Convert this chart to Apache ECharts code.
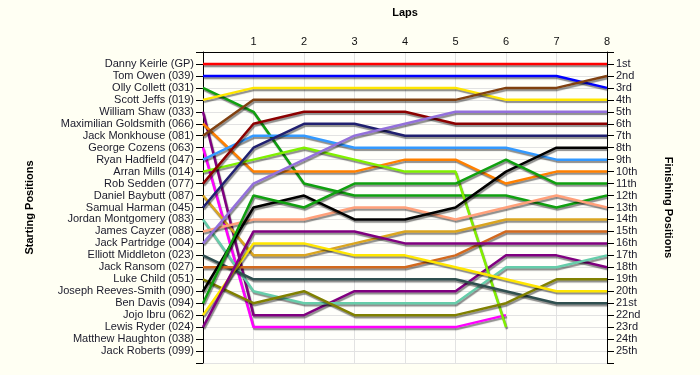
<!DOCTYPE html>
<html><head><meta charset="utf-8">
<script src="https://cdn.jsdelivr.net/npm/echarts@6/dist/echarts.min.js"></script>
<style>html,body{margin:0;padding:0;background:#fffff3}#c{width:700px;height:375px}</style>
</head><body><div id="c"></div>
<script>
const startNames = [
  'Danny Keirle (GP)','Tom Owen (039)','Olly Collett (031)','Scott Jeffs (019)',
  'William Shaw (033)','Maximilian Goldsmith (066)','Jack Monkhouse (081)','George Cozens (063)',
  'Ryan Hadfield (047)','Arran Mills (014)','Rob Sedden (077)','Daniel Baybutt (087)',
  'Samual Harman (045)','Jordan Montgomery (083)','James Cayzer (088)','Jack Partridge (004)',
  'Elliott Middleton (023)','Jack Ransom (027)','Luke Child (051)','Joseph Reeves-Smith (090)',
  'Ben Davis (094)','Jojo Ibru (062)','Lewis Ryder (024)','Matthew Haughton (038)','Jack Roberts (099)'
];
const finishLabels = ['1st','2nd','3rd','4th','5th','6th','7th','8th','9th','10th','11th','12th','13th',
  '14th','15th','16th','17th','18th','19th','20th','21st','22nd','23rd','24th','25th'];
const lapLabels = ['', '1', '2', '3', '4', '5', '6', '7', '8'];
// position of each driver (by starting order) after laps 0..8
const lapPositions = [
  [1,1,1,1,1,1,1,1,1],
  [2,2,2,2,2,2,2,2,3],
  [3,5,11,12,12,12,12,13,12],
  [4,3,3,3,3,3,4,4,4],
  [5,22,22,20,20,20,17,17,18],
  [6,10,10,10,9,9,11,10,10],
  [7,4,4,4,4,4,3,3,2],
  [8,23,23,23,23,23,22,null,null],
  [9,7,7,8,8,8,8,9,9],
  [10,9,8,9,10,10,23,null,null],
  [11,6,5,5,5,6,6,6,6],
  [12,17,17,16,15,15,14,14,14],
  [13,8,6,6,7,7,7,7,7],
  [14,20,21,21,21,21,18,18,17],
  [15,14,14,13,13,14,13,12,13],
  [16,11,9,7,6,5,5,5,5],
  [17,19,19,19,19,19,20,21,21],
  [18,18,18,18,18,17,15,15,15],
  [19,21,20,22,22,22,21,19,19],
  [20,13,12,14,14,13,10,8,8],
  [21,12,13,11,11,11,9,11,11],
  [22,16,16,17,17,18,19,20,20],
  [23,15,15,15,16,16,16,16,16],
  [],
  []
];
const lineColors = ['#ff0000','#0000ff','#10a010','#ffe600','#800080','#ff8000','#804010','#ff00ff',
  '#3399ff','#80f000','#8b0000','#daa520','#202070','#66cdaa','#ffa07a','#9370db',
  '#2f4f4f','#d2691e','#808000','#000000','#10a010','#ffe600','#800080','#888888','#888888'];

const font = 'Liberation Sans, Arial, sans-serif';
const series = lapPositions.map((arr, i) => ({
  name: startNames[i],
  type: 'line',
  symbol: 'none',
  silent: true,
  lineStyle: {color: lineColors[i], width: 2.5, shadowColor: 'rgba(0,0,0,0.45)', shadowBlur: 1, shadowOffsetX: 1, shadowOffsetY: 2},
  data: arr.map((p, lap) => p == null ? null : [lap, p]).filter(d => d !== null),
  z: 3
}));

const chart = echarts.init(document.getElementById('c'));
chart.setOption({
  backgroundColor: '#fffff3',
  animation: false,
  textStyle: {fontFamily: font},
  grid: {left: 203, right: 93, top: 52, bottom: 12, show: true, backgroundColor: '#fffffb', borderWidth: 0},
  xAxis: {
    type: 'value', position: 'top', min: 0, max: 8, interval: 1,
    name: 'Laps', nameLocation: 'middle', nameGap: 34,
    nameTextStyle: {fontWeight: 'bold', fontSize: 11, color: '#000', fontFamily: font},
    axisLine: {show: true, lineStyle: {color: '#000', width: 1}},
    axisTick: {show: false},
    axisLabel: {margin: 5, fontSize: 11, color: '#111', fontFamily: font, formatter: v => lapLabels[v] || ''},
    splitLine: {show: true, lineStyle: {color: '#e2e2e2', width: 1}}
  },
  yAxis: [{
    type: 'value', inverse: true, min: 0, max: 26, interval: 1, position: 'left',
    name: 'Starting Positions', nameLocation: 'middle', nameGap: 168, nameRotate: 90,
    nameTextStyle: {fontWeight: 'bold', fontSize: 11, color: '#000', fontFamily: font},
    axisLine: {show: true, onZero: false, lineStyle: {color: '#000', width: 1}},
    axisTick: {show: true, length: 7, lineStyle: {color: '#000'}},
    axisLabel: {margin: 9, fontSize: 11, color: '#1a1a2a', fontFamily: font, formatter: v => startNames[v - 1] || ''},
    splitLine: {show: true, lineStyle: {color: '#e2e2e2', width: 1}}
  }, {
    type: 'value', inverse: true, min: 0, max: 26, interval: 1, position: 'right',
    name: 'Finishing Positions', nameLocation: 'middle', nameGap: 56, nameRotate: -90,
    nameTextStyle: {fontWeight: 'bold', fontSize: 11, color: '#000', fontFamily: font},
    axisLine: {show: true, onZero: false, lineStyle: {color: '#000', width: 1}},
    axisTick: {show: true, length: 7, lineStyle: {color: '#000'}},
    axisLabel: {margin: 9, fontSize: 11, color: '#1a1a2a', fontFamily: font, formatter: v => finishLabels[v - 1] || ''},
    splitLine: {show: false}
  }],
  series: series
});
</script></body></html>
